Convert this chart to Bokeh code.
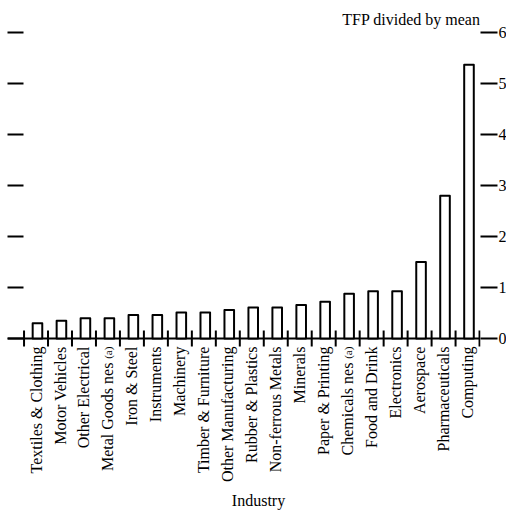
from math import pi
from bokeh.plotting import figure
from bokeh.models import Range1d, LinearAxis, FixedTicker, ColumnDataSource
from bokeh.core.properties import value
from bokeh.embed import file_html
from bokeh.resources import INLINE

industries = ["Textiles & Clothing", "Motor Vehicles", "Other Electrical", "Metal Goods nes",
              "Iron & Steel", "Instruments", "Machinery", "Timber & Furniture",
              "Other Manufacturing", "Rubber & Plastics", "Non-ferrous Metals", "Minerals",
              "Paper & Printing", "Chemicals nes", "Food and Drink", "Electronics",
              "Aerospace", "Pharmaceuticals", "Computing"]
footnotes = ["", "", "", "(a)", "", "", "", "", "", "", "", "", "", "(a)", "", "", "", "", ""]
tfp = [0.30, 0.35, 0.40, 0.40, 0.46, 0.46, 0.51, 0.51, 0.56, 0.61, 0.61, 0.66, 0.72,
       0.88, 0.93, 0.93, 1.50, 2.80, 5.37]
y_ticks = [0, 1, 2, 3, 4, 5, 6]
x_title = "Industry"
y_title = "TFP divided by mean"

FONT = "Liberation Serif"
n = len(industries)
PX_PER_UNIT = 51.0          # vertical scale: frame_height / y span
SLOT_PX = 23.97             # horizontal scale: pixels per category slot
X_MIN, X_MAX = -0.69, n + 0.04
Y_MIN, Y_MAX = -3.37, 6.0   # frame extends below the baseline to hold the rotated labels

p = figure(frame_width=int(round((X_MAX - X_MIN) * SLOT_PX)),
           frame_height=int(round((Y_MAX - Y_MIN) * PX_PER_UNIT)),
           x_range=Range1d(X_MIN, X_MAX), y_range=Range1d(Y_MIN, Y_MAX),
           output_backend="svg", toolbar_location=None,
           x_axis_location=None, y_axis_location=None,
           min_border_left=7, min_border_right=0, min_border_top=32, min_border_bottom=0)
p.outline_line_color = None
p.background_fill_color = "white"
p.border_fill_color = "white"
for g in p.grid:
    g.visible = False

p.title.text = y_title
p.title.align = "right"
p.title.text_font = FONT
p.title.text_font_size = "16px"
p.title.text_font_style = "normal"
p.title.text_color = "black"

# left ticks, no labels
yl = LinearAxis(ticker=FixedTicker(ticks=y_ticks))
yl.major_tick_in = 16
yl.major_tick_out = 0
yl.major_tick_line_width = 2
yl.major_tick_line_color = "black"
yl.axis_line_color = None
yl.minor_tick_line_color = None
yl.major_label_text_font_size = "0px"
yl.major_label_overrides = {t: "" for t in y_ticks}
yl.major_label_standoff = 0
p.add_layout(yl, "left")

# right ticks with labels
yr = LinearAxis(ticker=FixedTicker(ticks=y_ticks))
yr.major_tick_in = 0
yr.major_tick_out = 17
yr.major_tick_line_width = 2
yr.major_tick_line_color = "black"
yr.axis_line_color = None
yr.minor_tick_line_color = None
yr.major_label_standoff = 1
yr.major_label_text_font = FONT
yr.major_label_text_font_size = "16px"
yr.major_label_text_color = "black"
p.add_layout(yr, "right")

# baseline and category boundary ticks
tick_half = 8 / PX_PER_UNIT
bounds = list(range(n + 1))
p.segment(x0=[X_MIN], x1=[n], y0=[0], y1=[0], line_color="black", line_width=2)
p.segment(x0=bounds, x1=bounds, y0=[-tick_half] * len(bounds), y1=[tick_half] * len(bounds),
          line_color="black", line_width=2)

src = ColumnDataSource(dict(
    xb=[i + 0.56 for i in range(n)],
    xc=[i + 0.5 for i in range(n)],
    top=tfp,
    label=industries,
    note=footnotes,
    ly=[-(24 if f else 8) / PX_PER_UNIT for f in footnotes],
    ny=[-8 / PX_PER_UNIT] * n,
))

p.vbar(x="xb", top="top", bottom=0, width=0.40, source=src,
       fill_color="white", line_color="black", line_width=2, line_join="round")

p.text(x="xc", y="ly", text="label", source=src, angle=pi / 2,
       text_align="right", text_baseline="middle",
       text_font=value(FONT), text_font_size="16px", text_color="black")
p.text(x="xc", y="ny", text="note", source=src, angle=pi / 2,
       text_align="right", text_baseline="middle",
       text_font=value(FONT), text_font_size="11px", text_color="black")

# x-axis title, placed under the category labels
p.text(x=[n / 2 + 0.28], y=[-162 / PX_PER_UNIT], text=[x_title],
       text_align="center", text_baseline="middle",
       text_font=value(FONT), text_font_size="16px", text_color="black")

open("out.html", "w").write(file_html(p, INLINE))
